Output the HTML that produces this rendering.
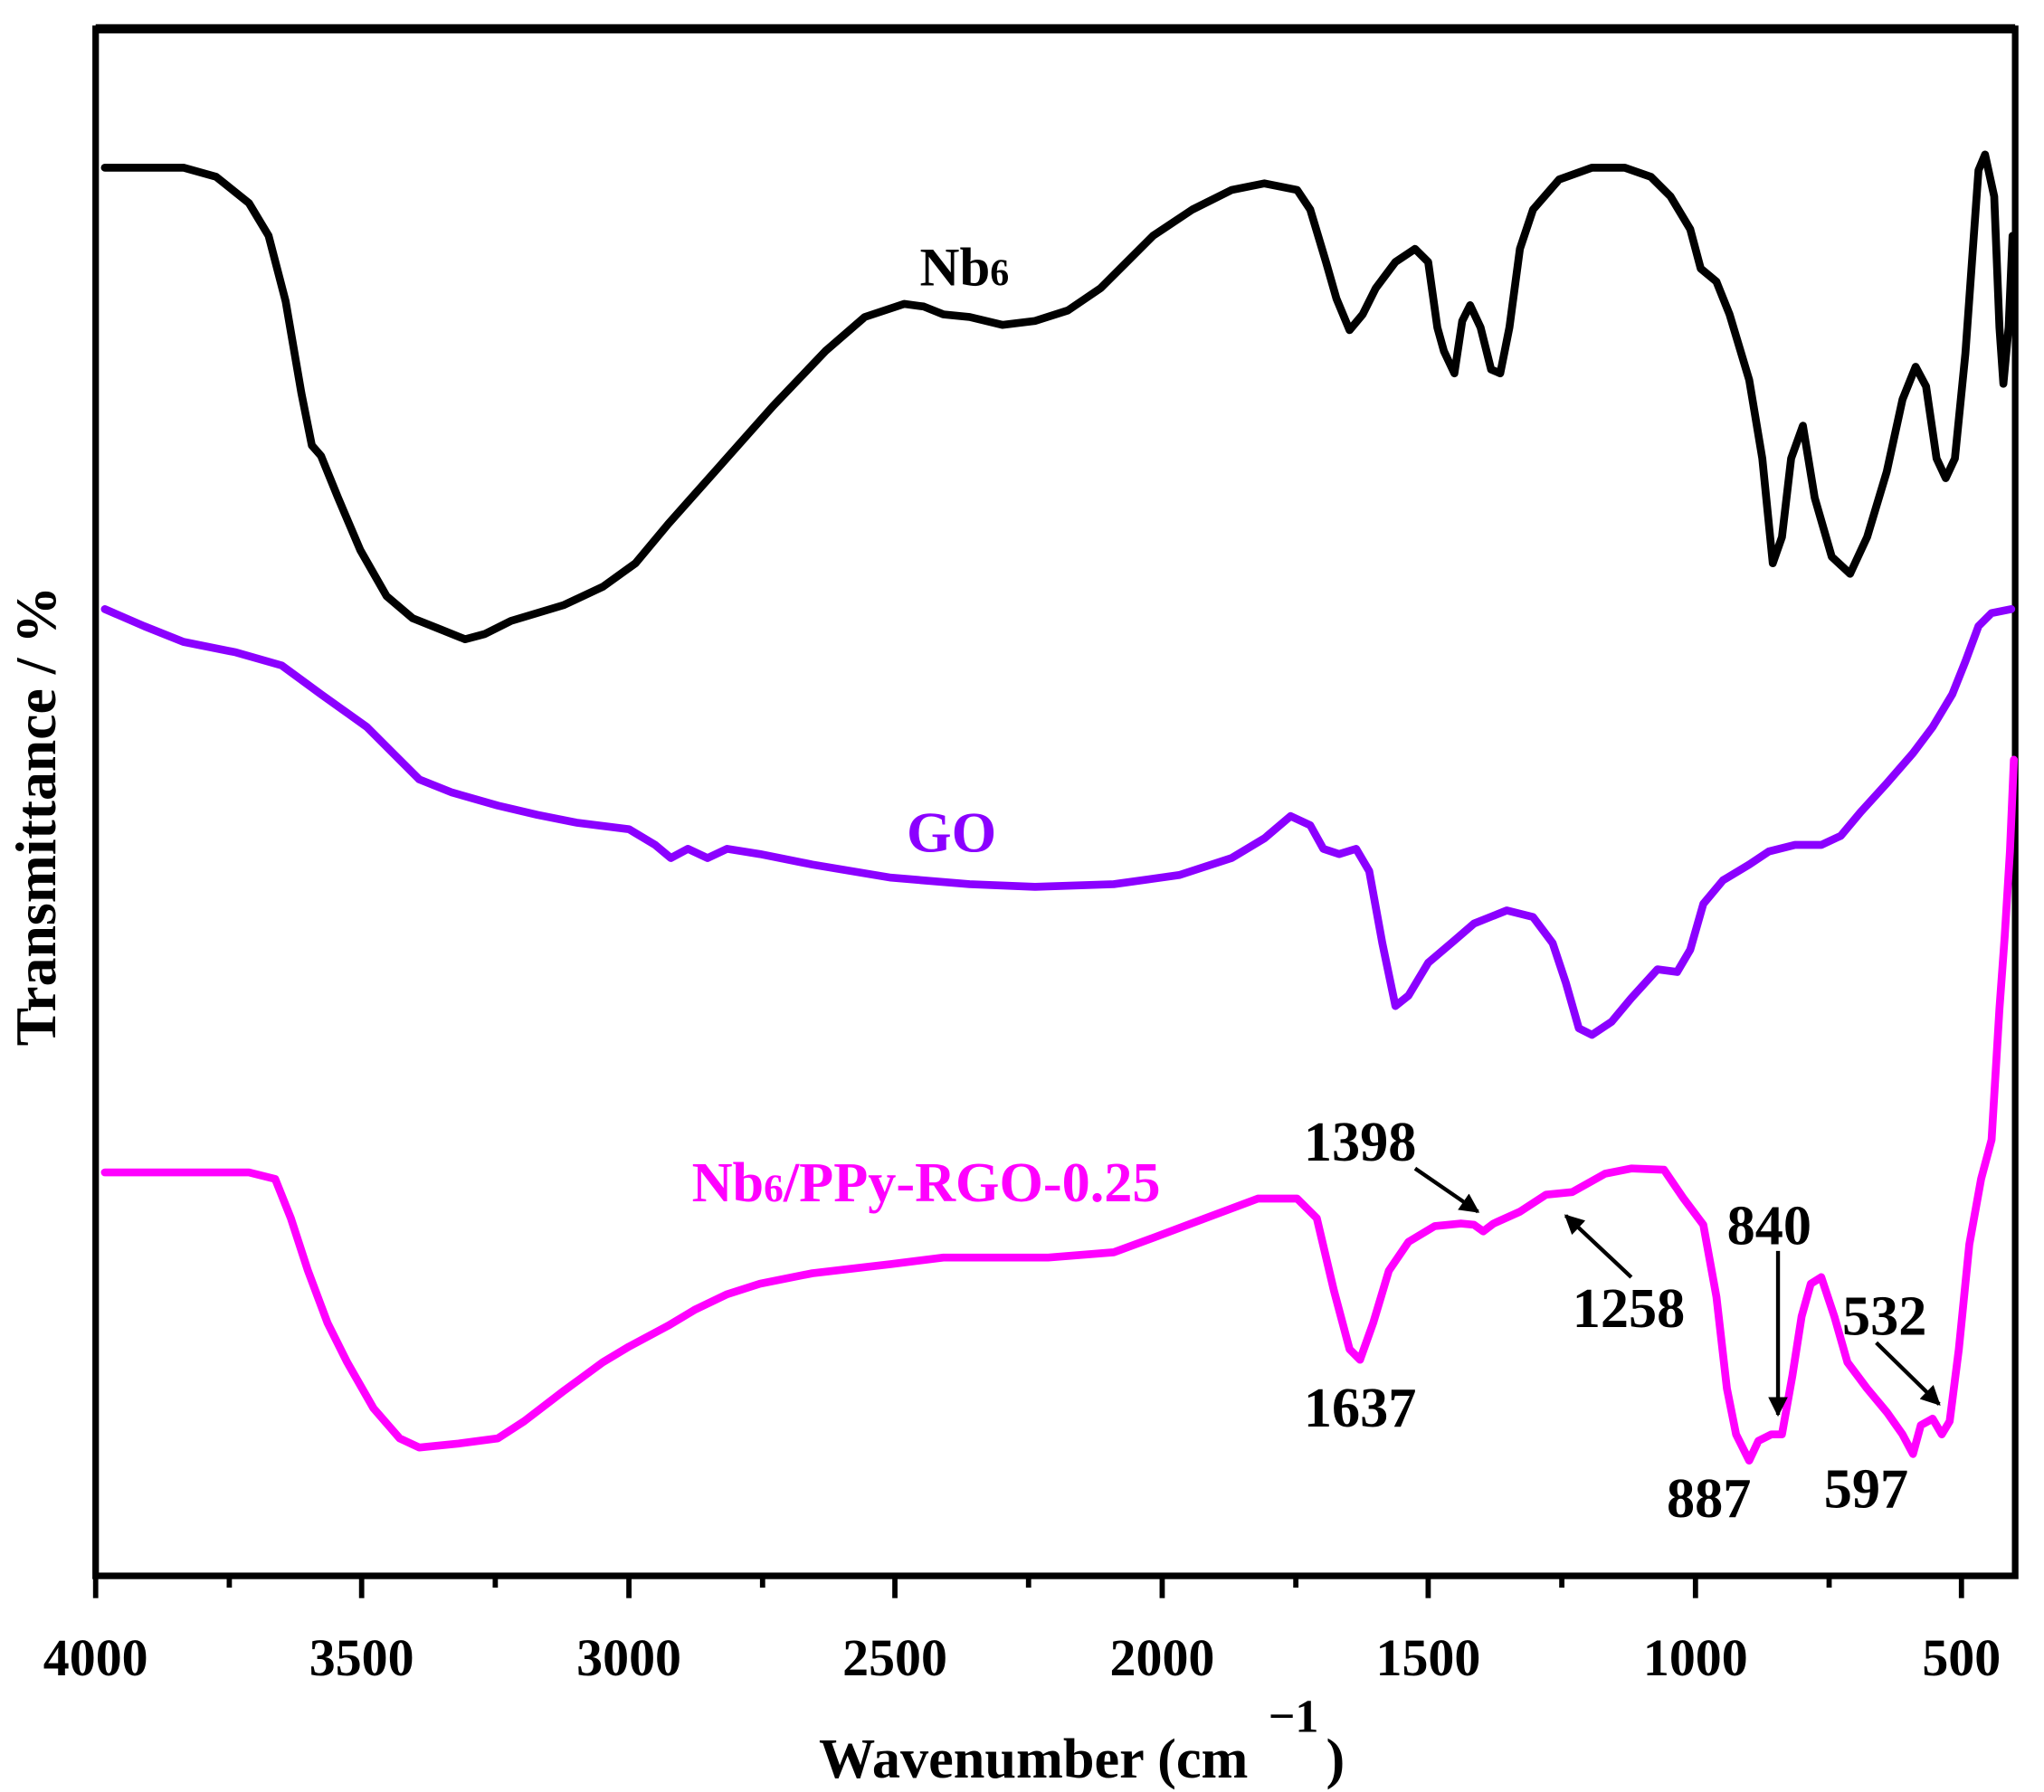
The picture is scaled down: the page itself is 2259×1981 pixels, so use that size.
<!DOCTYPE html>
<html><head><meta charset="utf-8"><style>html,body{margin:0;padding:0;background:#fff}svg{display:block}</style></head>
<body>
<svg width="2259" height="1981" viewBox="0 0 1560 1368" preserveAspectRatio="none" xmlns="http://www.w3.org/2000/svg" font-family="Liberation Serif, serif" font-weight="bold">
<defs><marker id="ah" viewBox="0 0 10 10" refX="9" refY="5" markerWidth="5" markerHeight="5" orient="auto"><path d="M0,0 L10,5 L0,10 z" fill="#000"/></marker></defs>
<rect x="73" y="22" width="1465" height="1181" fill="none" stroke="#000" stroke-width="5"/>
<line x1="73" y1="22" x2="1538" y2="22" stroke="#000" stroke-width="7"/>
<g stroke="#000" stroke-width="4">
<line x1="73" y1="1203" x2="73" y2="1220"/><line x1="175" y1="1203" x2="175" y2="1212"/>
<line x1="276" y1="1203" x2="276" y2="1220"/><line x1="378" y1="1203" x2="378" y2="1212"/>
<line x1="480" y1="1203" x2="480" y2="1220"/><line x1="582" y1="1203" x2="582" y2="1212"/>
<line x1="683" y1="1203" x2="683" y2="1220"/><line x1="785" y1="1203" x2="785" y2="1212"/>
<line x1="887" y1="1203" x2="887" y2="1220"/><line x1="989" y1="1203" x2="989" y2="1212"/>
<line x1="1090" y1="1203" x2="1090" y2="1220"/><line x1="1192" y1="1203" x2="1192" y2="1212"/>
<line x1="1294" y1="1203" x2="1294" y2="1220"/><line x1="1396" y1="1203" x2="1396" y2="1212"/>
<line x1="1497" y1="1203" x2="1497" y2="1220"/>
</g>
<g font-size="40" text-anchor="middle">
<text x="73" y="1279">4000</text><text x="276" y="1279">3500</text><text x="480" y="1279">3000</text><text x="683" y="1279">2500</text><text x="887" y="1279">2000</text><text x="1090" y="1279">1500</text><text x="1294" y="1279">1000</text><text x="1497" y="1279">500</text>
</g>
<text x="625" y="1357" font-size="43">Wavenumber (cm</text>
<text x="968" y="1322" font-size="36">−1</text>
<text x="1012" y="1357" font-size="43">)</text>
<text transform="translate(42,623) rotate(-90)" text-anchor="middle" font-size="44">Transmittance / %</text>
<g fill="none" stroke-width="6" stroke-linejoin="round" stroke-linecap="round">
<polyline stroke="#000" points="80,128 140,128 165,135 190,155 205,180 218,230 230,300 238,340 245,348 258,380 275,420 295,455 315,472 335,480 355,488 370,484 390,474 430,462 460,448 485,430 510,400 550,355 590,310 630,268 660,242 690,232 705,234 720,240 740,242 765,248 790,245 815,237 840,220 860,200 880,180 910,160 940,145 965,140 990,145 1000,160 1012,200 1020,228 1030,252 1040,240 1050,220 1065,200 1080,190 1090,200 1097,250 1102,268 1110,285 1116,245 1122,233 1130,250 1138,282 1145,285 1152,250 1160,190 1170,160 1190,137 1215,128 1240,128 1260,135 1275,150 1290,175 1298,205 1310,215 1320,240 1335,290 1345,350 1353,430 1360,410 1367,350 1376,325 1385,380 1398,425 1412,438 1425,410 1440,360 1452,305 1462,280 1470,295 1478,350 1485,365 1492,350 1500,270 1505,200 1510,130 1515,118 1522,150 1526,250 1529,293 1533,250 1536,180"/>
<polyline stroke="#8b00ff" points="80,465 110,478 140,490 180,498 215,508 245,530 280,555 300,575 320,595 345,605 380,615 410,622 440,628 480,633 500,645 512,655 525,648 540,655 555,648 580,652 620,660 680,670 740,675 790,677 850,675 900,668 940,655 965,640 985,623 1000,630 1010,648 1022,652 1035,648 1045,665 1055,720 1065,768 1075,760 1090,735 1110,718 1125,705 1150,695 1170,700 1185,720 1195,750 1205,785 1215,790 1230,780 1245,762 1265,740 1280,742 1290,725 1300,690 1315,672 1335,660 1350,650 1370,645 1390,645 1405,638 1420,620 1440,598 1460,575 1475,555 1490,530 1500,505 1510,478 1520,468 1535,465"/>
<polyline stroke="#ff00ff" points="80,895 190,895 210,900 222,930 235,970 250,1010 265,1040 285,1075 305,1098 320,1105 350,1102 380,1098 400,1085 430,1062 460,1040 480,1028 510,1012 530,1000 555,988 580,980 620,972 680,965 720,960 800,960 850,956 880,945 920,930 960,915 990,915 1005,930 1018,985 1030,1030 1038,1038 1048,1010 1060,970 1075,948 1095,936 1115,934 1125,935 1132,940 1140,934 1160,925 1180,912 1200,910 1225,896 1245,892 1270,893 1285,915 1300,935 1310,990 1318,1060 1325,1095 1335,1115 1342,1100 1352,1095 1360,1095 1368,1050 1375,1005 1382,980 1390,975 1400,1005 1410,1040 1425,1060 1440,1078 1452,1095 1460,1110 1466,1088 1475,1083 1482,1095 1488,1085 1495,1030 1503,950 1512,900 1520,870 1526,770 1530,715 1534,650 1537,580"/>
</g>
<text x="702" y="218" font-size="42">Nb<tspan font-size="29">6</tspan></text>
<text x="692" y="650" font-size="44" fill="#8b00ff">GO</text>
<text x="528" y="917" font-size="43" fill="#ff00ff">Nb<tspan font-size="30">6</tspan>/PPy-RGO-0.25</text>
<g font-size="43">
<text x="995" y="886">1398</text><text x="1200" y="1013">1258</text><text x="995" y="1089">1637</text>
<text x="1318" y="950">840</text><text x="1272" y="1158">887</text><text x="1392" y="1151">597</text><text x="1406" y="1019">532</text>
</g>
<g stroke="#000" stroke-width="3" marker-end="url(#ah)">
<line x1="1080" y1="892" x2="1128" y2="925"/>
<line x1="1245" y1="975" x2="1195" y2="928"/>
<line x1="1357" y1="955" x2="1357" y2="1080"/>
<line x1="1432" y1="1025" x2="1480" y2="1072"/>
</g>
</svg>
</body></html>
